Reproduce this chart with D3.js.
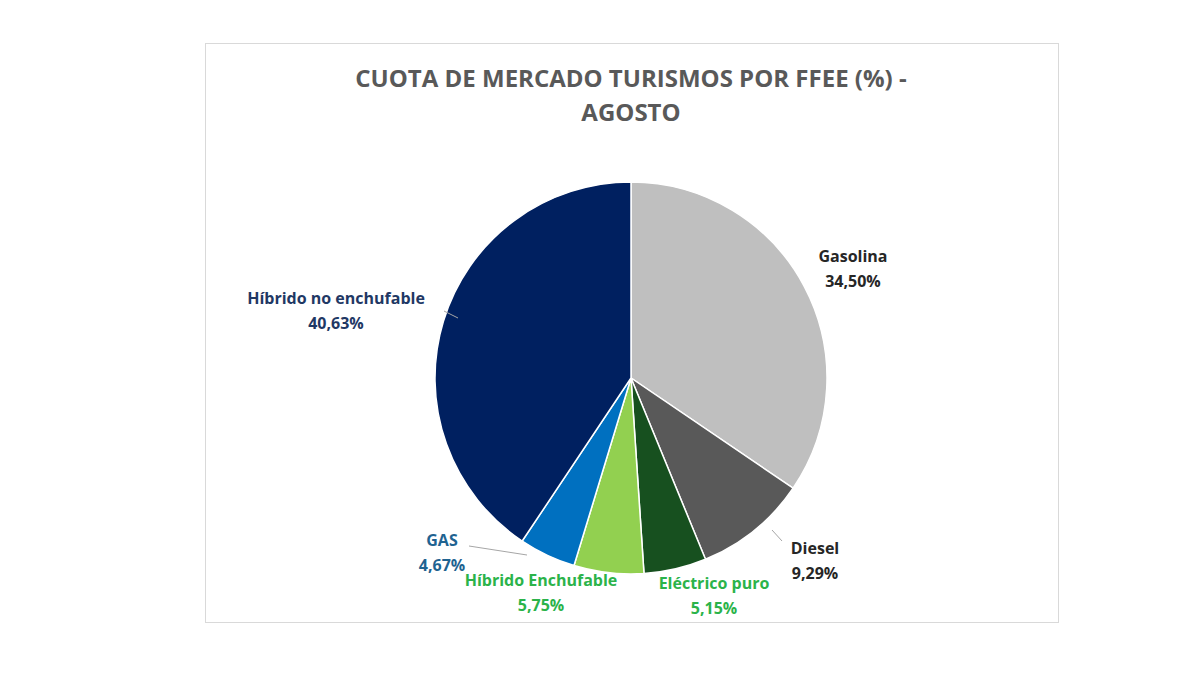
<!DOCTYPE html>
<html>
<head>
<meta charset="utf-8">
<script src="https://cdn.jsdelivr.net/npm/d3@7"></script>
<style>
  body { margin: 0; background: #fff; font-family: "Open Sans", "Noto Sans", sans-serif; }
</style>
</head>
<body>
<div id="chart"></div>
<script>
"use strict";

const categories = ["Gasolina", "Diesel", "Eléctrico puro", "Híbrido Enchufable", "GAS", "Híbrido no enchufable"];
const shares = [34.50, 9.29, 5.15, 5.75, 4.67, 40.63];
const sliceColors = ["#bfbfbf", "#595959", "#17501f", "#92d050", "#0070c0", "#002060"];
const labelColors = ["#262626", "#262626", "#2bb34a", "#2bb34a", "#1f6391", "#1f3864"];

(function () {
    const width = 1200, height = 675;
    const cx = 631, cy = 378, r = 196;

    // label anchors (text centre) and leader line ends
    const labelPos = [[853, 256], [815, 548], [714, 583], [541, 580], [442, 540], [336, 298]];
    const leaders = [null, [[772, 530], [782, 541]], null, null, [[469, 546], [527, 555]], [[444, 311], [458, 318]]];

    const svg = d3.select("#chart").append("svg")
        .attr("width", width).attr("height", height);

    svg.append("rect")
        .attr("x", 205.5).attr("y", 43.5).attr("width", 853).attr("height", 579)
        .attr("fill", "#fff").attr("stroke", "#d9d9d9");

    const title = svg.append("text")
        .attr("text-anchor", "middle")
        .attr("font-size", 24).attr("font-weight", 700)
        .attr("fill", "#595959");
    title.append("tspan").attr("x", 631).attr("y", 87).text("CUOTA DE MERCADO TURISMOS POR FFEE (%)  -");
    title.append("tspan").attr("x", 631).attr("y", 121).text("AGOSTO");

    const pie = d3.pie().sort(null).value(d => d);
    const arc = d3.arc().innerRadius(0).outerRadius(r);
    const arcs = pie(shares);

    const g = svg.append("g").attr("transform", `translate(${cx},${cy})`);
    g.selectAll("path").data(arcs).enter().append("path")
        .attr("d", arc)
        .attr("fill", (d, i) => sliceColors[i])
        .attr("stroke", "#fff").attr("stroke-width", 1.5);

    leaders.forEach(function (l) {
        if (!l) return;
        svg.append("line")
            .attr("x1", l[0][0]).attr("y1", l[0][1]).attr("x2", l[1][0]).attr("y2", l[1][1])
            .attr("stroke", "#a6a6a6").attr("stroke-width", 1);
    });

    const fmt = v => d3.format(".2f")(v).replace(".", ",") + "%";

    categories.forEach(function (c, i) {
        const t = svg.append("text")
            .attr("text-anchor", "middle")
            .attr("font-size", 16).attr("font-weight", 700)
            .attr("fill", labelColors[i]);
        t.append("tspan").attr("x", labelPos[i][0]).attr("y", labelPos[i][1] + 6).text(c);
        t.append("tspan").attr("x", labelPos[i][0]).attr("y", labelPos[i][1] + 31).text(fmt(shares[i]));
    });
})();
</script>
</body>
</html>
